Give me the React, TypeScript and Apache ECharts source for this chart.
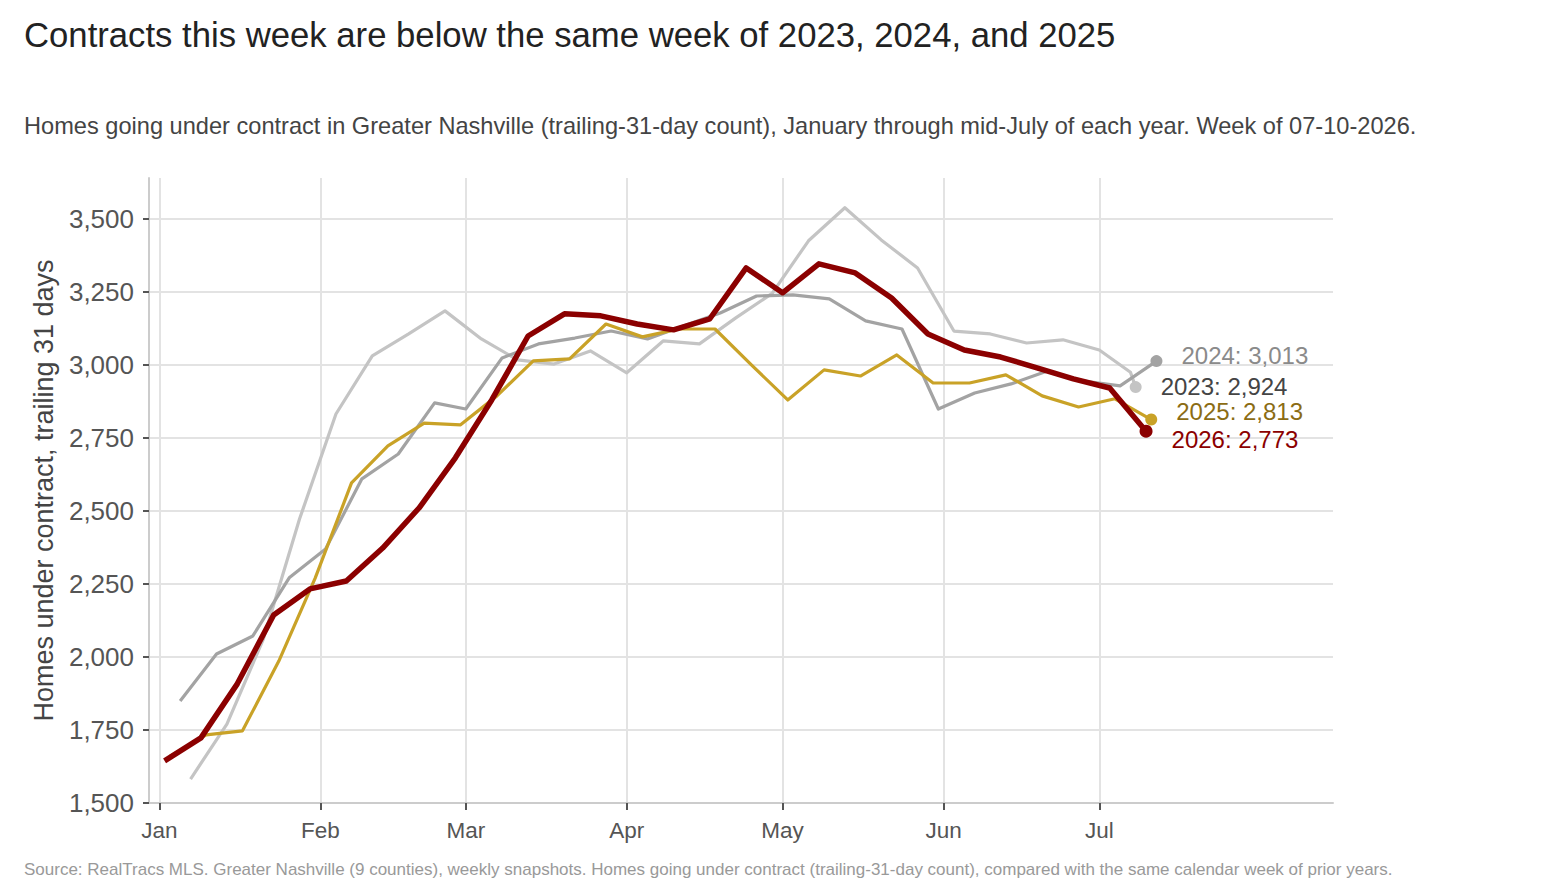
import React, { useEffect, useRef } from "react";
import * as echarts from "echarts";

// Day-of-year positions (Jan 1 = 0) on the shared calendar, and month tick labels
const MONTH_LABELS = ["Jan", "Feb", "Mar", "Apr", "May", "Jun", "Jul"];
const MONTH_START_DAYS = [0, 31, 59, 90, 120, 151, 181];
const Y_TICKS = [1500, 1750, 2000, 2250, 2500, 2750, 3000, 3250, 3500];

// Weekly snapshots, homes under contract (trailing-31-day count)
const DAYS_2023 = [6, 13, 20, 27, 34, 41, 48, 55, 62, 69, 76, 83, 90, 97, 104, 111, 118, 125, 132, 139, 146, 153, 160, 167, 174, 181, 187, 188];
const VALUES_2023 = [1582, 1770, 2060, 2473, 2832, 3031, 3106, 3185, 3089, 3017, 3003, 3048, 2973, 3082, 3072, 3161, 3245, 3425, 3538, 3428, 3332, 3116, 3106, 3075, 3086, 3051, 2975, 2924];

const DAYS_2024 = [4, 11, 18, 25, 32, 39, 46, 53, 59, 66, 73, 80, 87, 94, 101, 108, 115, 122, 129, 136, 143, 150, 157, 164, 171, 178, 185, 192];
const VALUES_2024 = [1849, 2010, 2072, 2271, 2370, 2610, 2695, 2870, 2849, 3024, 3072, 3092, 3116, 3089, 3134, 3178, 3236, 3240, 3226, 3151, 3123, 2849, 2904, 2935, 2979, 2945, 2928, 3013];

const DAYS_2025 = [2, 9, 16, 23, 30, 37, 44, 51, 58, 65, 72, 79, 86, 93, 100, 107, 114, 121, 128, 135, 142, 149, 156, 163, 170, 177, 184, 191];
const VALUES_2025 = [1660, 1733, 1747, 1986, 2270, 2596, 2723, 2801, 2795, 2894, 3014, 3021, 3140, 3096, 3123, 3123, 3000, 2880, 2983, 2962, 3034, 2938, 2938, 2966, 2894, 2856, 2884, 2813];

const DAYS_2026 = [1, 8, 15, 22, 29, 36, 43, 50, 57, 64, 71, 78, 85, 92, 99, 106, 113, 120, 127, 134, 141, 148, 155, 162, 169, 176, 183, 190];
const VALUES_2026 = [1644, 1723, 1908, 2144, 2233, 2260, 2373, 2510, 2682, 2880, 3099, 3175, 3168, 3140, 3120, 3158, 3332, 3247, 3346, 3315, 3229, 3106, 3051, 3027, 2990, 2952, 2921, 2773];

const FONT = "'Liberation Sans', Arial, Helvetica, sans-serif";
const fmt = (v: number) => v.toLocaleString("en-US");

type YearSpec = {
  year: string;
  days: number[];
  values: number[];
  lineColor: string;
  labelColor: string;
  width: number;
  dotSize: number;
  labelOffset: [number, number];
};

const YEARS: YearSpec[] = [
  { year: "2023", days: DAYS_2023, values: VALUES_2023, lineColor: "#c4c4c4", labelColor: "#444444", width: 3.2, dotSize: 12, labelOffset: [0, -1] },
  { year: "2024", days: DAYS_2024, values: VALUES_2024, lineColor: "#a3a3a3", labelColor: "#8a8a8a", width: 3.2, dotSize: 12, labelOffset: [0, -6] },
  { year: "2025", days: DAYS_2025, values: VALUES_2025, lineColor: "#c9a227", labelColor: "#8b6c14", width: 3.2, dotSize: 12, labelOffset: [0, -8] },
  { year: "2026", days: DAYS_2026, values: VALUES_2026, lineColor: "#8b0000", labelColor: "#8b0000", width: 5.5, dotSize: 13, labelOffset: [0, 8] },
];

function buildSeries(spec: YearSpec) {
  const last = spec.values.length - 1;
  const data = spec.days.map((d, i) => {
    if (i !== last) return [d, spec.values[i]];
    return {
      value: [d, spec.values[i]],
      symbol: "circle",
      symbolSize: spec.dotSize,
      itemStyle: { color: spec.lineColor },
      label: {
        show: true,
        position: "right",
        distance: 19,
        offset: spec.labelOffset,
        formatter: `${spec.year}: ${fmt(spec.values[i])}`,
        color: spec.labelColor,
        fontSize: 24,
        lineHeight: 19,
        fontFamily: FONT,
      },
    };
  });
  return {
    name: spec.year,
    type: "line",
    data,
    symbol: "none",
    showSymbol: true,
    lineStyle: { color: spec.lineColor, width: spec.width, join: "round" },
    itemStyle: { color: spec.lineColor },
    emphasis: { disabled: true },
    z: 2,
  };
}

export default function App() {
  const ref = useRef<HTMLDivElement>(null);

  useEffect(() => {
    if (!ref.current) return;
    const chart = echarts.init(ref.current, undefined, { renderer: "svg" });
    chart.setOption({
      animation: false,
      backgroundColor: "#ffffff",
      textStyle: { fontFamily: FONT },
      title: [
        {
          text: "Contracts this week are below the same week of 2023, 2024, and 2025",
          left: 24,
          top: 17,
          padding: 0,
          textStyle: { fontSize: 34.7, fontWeight: "normal", color: "#222222", fontFamily: FONT },
        },
        {
          text: "Homes going under contract in Greater Nashville (trailing-31-day count), January through mid-July of each year. Week of 07-10-2026.",
          left: 24,
          top: 114,
          padding: 0,
          textStyle: { fontSize: 23.6, fontWeight: "normal", color: "#444444", fontFamily: FONT },
        },
        {
          text: "Source: RealTracs MLS. Greater Nashville (9 counties), weekly snapshots. Homes going under contract (trailing-31-day count), compared with the same calendar week of prior years.",
          left: 24,
          top: 861,
          padding: 0,
          textStyle: { fontSize: 17, fontWeight: "normal", color: "#999999", fontFamily: FONT },
        },
      ],
      grid: { left: 149, right: 235, top: 178, bottom: 93, containLabel: false },
      xAxis: {
        type: "value",
        min: -2,
        max: 226,
        axisLine: { show: true, onZero: false, lineStyle: { color: "#cccccc", width: 2 } },
        axisTick: { show: true, customValues: MONTH_START_DAYS, length: 7, lineStyle: { color: "#555555", width: 2 } },
        axisLabel: {
          customValues: MONTH_START_DAYS,
          formatter: (v: number) => MONTH_LABELS[MONTH_START_DAYS.indexOf(v)] ?? "",
          color: "#555555",
          fontSize: 22.5,
          margin: 16,
          fontFamily: FONT,
        },
        splitLine: { show: true, lineStyle: { color: "#e3e3e3", width: 2 } },
      },
      yAxis: {
        type: "value",
        min: 1500,
        max: 3640,
        name: "Homes under contract, trailing 31 days",
        nameLocation: "middle",
        nameGap: 92,
        nameTextStyle: { fontSize: 27, color: "#444444", fontFamily: FONT },
        axisLine: { show: true, onZero: false, lineStyle: { color: "#cccccc", width: 2 } },
        axisTick: { show: true, customValues: Y_TICKS, length: 6, lineStyle: { color: "#555555", width: 2 } },
        axisLabel: {
          customValues: Y_TICKS,
          formatter: (v: number) => fmt(v),
          color: "#555555",
          fontSize: 26,
          margin: 15,
          fontFamily: FONT,
        },
        splitLine: { show: true, lineStyle: { color: "#e3e3e3", width: 2 } },
      },
      series: YEARS.map(buildSeries),
    });
    return () => chart.dispose();
  }, []);

  return (
    <div
      ref={ref}
      style={{ position: "fixed", left: 0, top: 0, width: 1568, height: 896, background: "#fff" }}
    />
  );
}
